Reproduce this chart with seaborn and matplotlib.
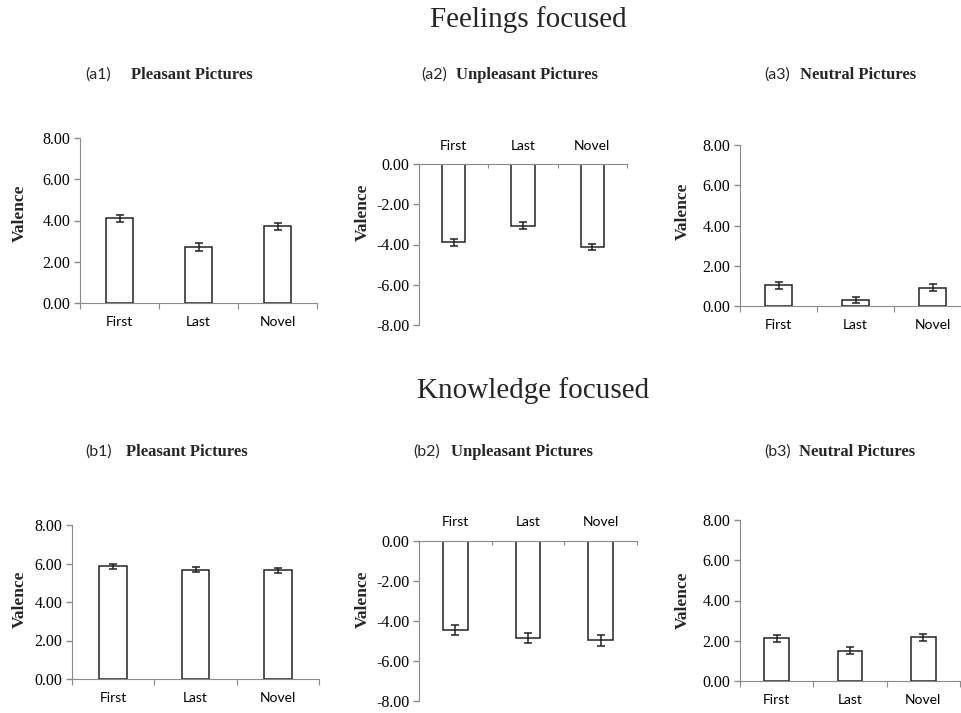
import matplotlib
matplotlib.use("Agg")
import matplotlib.pyplot as plt
import seaborn as sns

# Data (mean valence and error per picture set)
categories = ["First", "Last", "Novel"]

a1_vals = [4.10, 2.70, 3.72]
a1_err = [0.19, 0.19, 0.17]
a2_vals = [-3.90, -3.07, -4.12]
a2_err = [0.17, 0.17, 0.16]
a3_vals = [1.03, 0.30, 0.91]
a3_err = [0.17, 0.17, 0.17]

b1_vals = [5.85, 5.67, 5.65]
b1_err = [0.13, 0.13, 0.13]
b2_vals = [-4.47, -4.85, -4.97]
b2_err = [0.25, 0.27, 0.26]
b3_vals = [2.12, 1.50, 2.18]
b3_err = [0.17, 0.17, 0.17]

row_titles = ["Feelings focused", "Knowledge focused"]
panel_tags = ["(a1)", "(a2)", "(a3)", "(b1)", "(b2)", "(b3)"]
panel_names = ["Pleasant Pictures", "Unpleasant Pictures", "Neutral Pictures"] * 2

sns.set_style("white")
SERIF = "Liberation Serif"
SANS = "Lato"
SPINE = "#8a8a8a"

W, H = 961, 713
fig = plt.figure(figsize=(W / 100, H / 100), dpi=100)

# layout in pixels: axes (left, top, right, bottom), ylabel centre, title pieces
panels = [
    dict(vals=a1_vals, err=a1_err, rect=(80, 138, 317, 303), lab=(20, 213),
         tag=(85, 75), name=(131, 75)),
    dict(vals=a2_vals, err=a2_err, rect=(419, 164, 627, 325), lab=(363, 212),
         tag=(421, 75), name=(456, 75)),
    dict(vals=a3_vals, err=a3_err, rect=(740, 145, 971, 306), lab=(683, 211),
         tag=(764, 75), name=(800, 75)),
    dict(vals=b1_vals, err=b1_err, rect=(72, 525, 319, 679), lab=(20, 599),
         tag=(85, 452), name=(126, 452)),
    dict(vals=b2_vals, err=b2_err, rect=(419, 541, 637, 701), lab=(363, 599),
         tag=(413, 452), name=(451, 452)),
    dict(vals=b3_vals, err=b3_err, rect=(740, 520, 960, 681), lab=(683, 600),
         tag=(764, 452), name=(799, 452)),
]

for i, p in enumerate(panels):
    l, t, r, b = p["rect"]
    ax = fig.add_axes([l / W, 1 - b / H, (r - l) / W, (b - t) / H])
    sns.barplot(x=categories, y=p["vals"], ax=ax, color="white", edgecolor="#222222",
                linewidth=1.1, width=0.34, errorbar=None, saturation=1)
    ax.errorbar(range(len(categories)), p["vals"], yerr=p["err"], fmt="none",
                ecolor="#222222", elinewidth=1.1, capsize=3, capthick=1.1)
    ax.set_xlim(-0.5, 2.5)
    neg = p["vals"][0] < 0
    if neg:
        ax.set_ylim(-8, 0)
        ax.set_yticks([0, -2, -4, -6, -8])
    else:
        ax.set_ylim(0, 8)
        ax.set_yticks([0, 2, 4, 6, 8])
    ax.set_yticklabels([f"{v:.2f}" for v in ax.get_yticks()])

    # boundary ticks without labels, category names centred under each bar
    ax.set_xticks([-0.5, 0.5, 1.5, 2.5], labels=[])
    ax.set_xticks([0, 1, 2], labels=categories, minor=True)

    for s in ax.spines.values():
        s.set_visible(False)
    ax.spines["left"].set_visible(True)
    ax.spines["left"].set_color(SPINE)
    side = "top" if neg else "bottom"
    ax.spines[side].set_visible(True)
    ax.spines[side].set_color(SPINE)
    if neg:
        ax.xaxis.tick_top()
        ax.tick_params(axis="x", which="major", direction="in", length=3, color=SPINE)
    else:
        ax.xaxis.tick_bottom()
        ax.tick_params(axis="x", which="major", direction="out", length=4, color=SPINE)
    ax.tick_params(axis="x", which="minor", length=0, pad=9, colors="black",
                   labelfontfamily=SANS, labelsize=10)
    ax.tick_params(axis="y", left=True, direction="out", length=4, width=1,
                   color=SPINE, pad=3, labelcolor="black",
                   labelfontfamily=SERIF, labelsize=11.5)

    ax.set_ylabel("Valence", fontfamily=SERIF, fontweight="bold", fontsize=12.5, va="center")
    lx, ly = p["lab"]
    ax.yaxis.set_label_coords((lx - l) / (r - l), (b - ly) / (b - t))

    tx, ty = p["tag"]
    fig.text(tx / W, 1 - ty / H, panel_tags[i], fontfamily=SANS, fontsize=11.5,
             ha="left", va="center")
    nx, ny = p["name"]
    fig.text(nx / W, 1 - ny / H, panel_names[i], fontfamily=SERIF, fontweight="bold",
             fontsize=12, ha="left", va="center")

fig.text(528 / W, 1 - 20 / H, row_titles[0], fontfamily=SERIF, fontsize=21,
         ha="center", va="center")
fig.text(533 / W, 1 - 391 / H, row_titles[1], fontfamily=SERIF, fontsize=21,
         ha="center", va="center")

fig.savefig("out.png", dpi=100)
